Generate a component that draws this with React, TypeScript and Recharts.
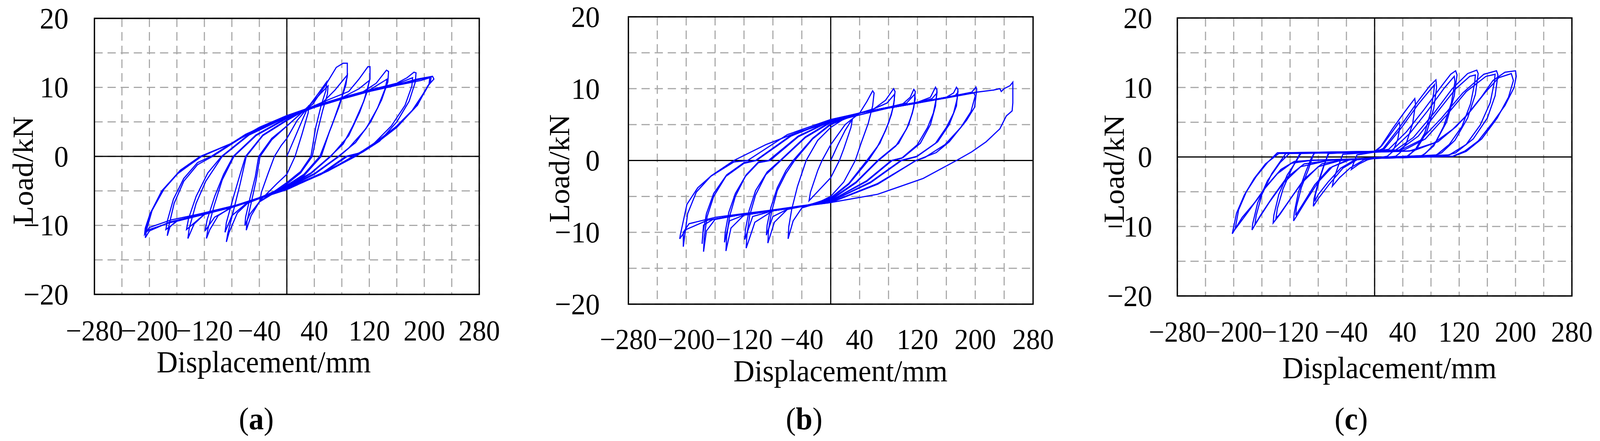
import {
  CartesianGrid,
  Line,
  LineChart,
  ReferenceArea,
  XAxis,
  YAxis,
} from "recharts";

// axes
const X_GRID = [-280, -240, -200, -160, -120, -80, -40, 0, 40, 80, 120, 160, 200, 240, 280];
const X_LABELS = [-280, -200, -120, -40, 40, 120, 200, 280];
const Y_GRID = [-20, -15, -10, -5, 0, 5, 10, 15, 20];
const Y_LABELS = [-20, -10, 0, 10, 20];

// the two zero axes drawn beneath the loops
const ZERO_X = [[0, -20], [0, 20]];
const ZERO_Y = [[-280, 0], [280, 0]];

// specimen (a): one array per loading cycle, [displacement mm, load kN]
const a1 = [[0,0],[12,2.8],[24,5.6],[32,7.4],[31,6.3],[22,3.2],[12,0],[0,-2.6],[-14,-3.9],[-28,-5.3],[-39,-6.4],[-37,-5.2],[-27,-2.4],[-18,0],[-8,1.6],[0,2.6]];
const a2 = [[0,2.6],[15,5.2],[30,7.0],[45,9.0],[58,10.8],[57,9.6],[50,7.4],[42,4.2],[35,0],[20,-2.2],[0,-3.8],[-20,-5.2],[-40,-6.6],[-52,-8.6],[-59,-10.7],[-58,-9.4],[-52,-6.8],[-45,-3.6],[-39,0],[-22,2.4],[0,4.4]];
const a2b = [[0,4.4],[18,6.0],[35,7.6],[50,9.2],[60,10.2],[59,9.0],[52,6.6],[44,3.4],[37,0],[20,-2.4],[0,-4.0],[-20,-5.4],[-40,-6.6],[-54,-8.4],[-61,-10.0],[-60,-8.8],[-54,-6.2],[-46,-3.0],[-41,0],[-22,2.6],[0,4.4]];
const a3 = [[0,4.4],[20,6.2],[38,7.6],[58,10.6],[72,12.9],[82,13.5],[88,13.5],[88,11.6],[80,8.6],[66,4.6],[48,0],[25,-2.6],[0,-4.2],[-30,-5.6],[-55,-6.6],[-72,-8.2],[-84,-11.0],[-88,-12.4],[-86,-11.2],[-78,-8.0],[-68,-4.0],[-59,0],[-35,3.0],[0,5.2]];
const a3b = [[0,5.2],[25,6.6],[50,7.6],[70,9.6],[88,11.8],[86,10.4],[76,7.2],[62,3.6],[50,0],[25,-2.8],[0,-4.3],[-30,-5.7],[-60,-6.9],[-80,-8.6],[-90,-11.0],[-88,-9.6],[-78,-6.0],[-68,-2.6],[-60,0],[-35,3.1],[0,5.3]];
const a4 = [[0,5.3],[30,6.9],[60,8.2],[90,9.4],[105,11.2],[118,13.0],[121,13.0],[121,11.2],[112,8.0],[96,4.4],[82,1.8],[63,0],[35,-2.4],[0,-4.4],[-40,-6.0],[-80,-7.3],[-100,-8.6],[-112,-10.6],[-117,-11.9],[-115,-10.6],[-106,-7.2],[-94,-3.4],[-77,0],[-45,3.0],[0,5.5]];
const a4b = [[0,5.5],[40,7.1],[80,8.5],[105,9.8],[120,11.0],[117,9.4],[106,6.4],[90,3.0],[64,0],[35,-2.5],[0,-4.5],[-40,-6.1],[-80,-7.4],[-105,-8.8],[-119,-10.8],[-116,-9.2],[-105,-5.8],[-92,-2.6],[-78,0],[-45,3.1],[0,5.6]];
const a5 = [[0,5.6],[40,7.2],[80,8.4],[110,9.3],[130,10.6],[145,12.5],[148,12.3],[147,10.8],[138,8.2],[122,5.0],[100,2.0],[75,0],[40,-2.5],[0,-4.5],[-40,-6.0],[-80,-7.3],[-120,-8.4],[-135,-9.8],[-144,-11.9],[-142,-10.4],[-132,-6.8],[-118,-3.6],[-94,0],[-55,3.1],[0,5.7]];
const a5b = [[0,5.7],[40,7.2],[80,8.5],[120,9.6],[146,11.2],[143,9.8],[132,7.0],[115,4.0],[90,1.2],[76,0],[40,-2.6],[0,-4.6],[-40,-6.0],[-80,-7.3],[-120,-8.4],[-146,-10.6],[-143,-9.0],[-132,-5.8],[-115,-2.4],[-95,0],[-55,3.2],[0,5.8]];
const a6 = [[0,5.8],[40,7.3],[80,8.5],[120,9.6],[160,10.6],[175,11.4],[185,12.2],[188,12.1],[187,10.8],[178,8.0],[160,5.0],[135,2.2],[110,0.6],[86,0],[50,-2.5],[0,-4.6],[-40,-6.0],[-80,-7.3],[-120,-8.3],[-160,-9.3],[-170,-10.2],[-174,-11.5],[-172,-10.2],[-164,-6.8],[-150,-3.6],[-130,-1.2],[-108,0],[-60,3.1],[0,5.9]];
const a6b = [[0,5.9],[40,7.3],[80,8.5],[120,9.6],[160,10.5],[183,11.4],[182,10.2],[172,7.4],[152,4.4],[126,1.8],[104,0.3],[88,0],[50,-2.6],[0,-4.7],[-40,-6.1],[-80,-7.3],[-120,-8.4],[-160,-9.4],[-176,-10.6],[-174,-9.4],[-165,-6.2],[-150,-3.2],[-130,-0.9],[-110,0],[-60,3.2],[0,5.9]];
const a7 = [[0,5.9],[40,7.2],[80,8.4],[120,9.5],[160,10.4],[190,11.2],[212,11.6],[214,11.2],[205,10.2],[190,7.4],[160,4.4],[130,2.1],[98,0],[60,-2.0],[0,-4.7],[-40,-6.0],[-75,-7.1],[-125,-8.3],[-168,-9.2],[-200,-10.3],[-207,-11.3],[-206,-10.4],[-199,-8.3],[-182,-5.0],[-160,-2.6],[-125,0],[-82,1.8],[-40,4.2],[0,5.9]];
const a7b = [[0,5.9],[40,7.1],[80,8.3],[120,9.4],[160,10.3],[195,11.0],[208,11.4],[207,10.5],[198,9.0],[182,6.6],[155,3.9],[125,1.6],[96,0],[60,-2.1],[0,-4.8],[-40,-6.1],[-80,-7.3],[-125,-8.4],[-170,-9.5],[-200,-10.8],[-206,-11.8],[-204,-10.6],[-196,-7.8],[-178,-4.6],[-155,-2.0],[-126,0],[-82,1.8],[-40,4.1],[0,5.8]];
const a7c = [[0,5.9],[40,7.2],[80,8.4],[120,9.5],[160,10.4],[195,11.2],[210,11.5],[209,10.8],[201,9.4],[186,7.0],[160,4.2],[130,1.9],[100,0],[60,-2.1],[0,-4.8],[-40,-6.1],[-80,-7.4],[-125,-8.5],[-170,-9.6],[-200,-10.6],[-206,-11.1],[-204,-10.0],[-197,-8.0],[-181,-5.0],[-158,-2.4],[-124,0],[-80,1.9],[-40,4.2],[0,5.9]];

// specimen (b)
const b1 = [[0,0],[10,2.2],[20,4.2],[30,5.8],[28,4.6],[18,1.6],[12,0],[0,-2.4],[-15,-4.0],[-30,-5.6],[-28,-4.4],[-18,-1.4],[-12,0],[0,2.2]];
const b2 = [[0,2.2],[20,5.0],[40,6.6],[50,8.2],[58,9.7],[60,9.4],[58,7.6],[52,5.2],[42,2.4],[34,0],[18,-3.0],[0,-5.0],[-20,-6.0],[-40,-6.6],[-52,-8.4],[-59,-10.9],[-58,-9.2],[-54,-6.8],[-46,-3.6],[-34,0],[-18,2.8],[0,4.6]];
const b3 = [[0,4.6],[20,5.9],[40,6.6],[60,7.2],[76,8.4],[87,10.0],[89,9.6],[87,7.6],[80,5.2],[68,2.4],[50,0],[25,-3.2],[0,-5.2],[-30,-6.2],[-60,-6.8],[-78,-8.6],[-87,-11.5],[-86,-9.6],[-82,-7.2],[-74,-4.2],[-62,-1.8],[-50,0],[-25,3.0],[0,5.0]];
const b3b = [[0,5.0],[20,6.0],[40,6.6],[60,7.2],[78,8.0],[88,9.2],[88,8.4],[84,6.4],[76,4.2],[64,1.8],[52,0],[25,-3.3],[0,-5.3],[-30,-6.2],[-60,-6.8],[-80,-7.8],[-89,-10.4],[-88,-9.0],[-83,-6.6],[-74,-3.8],[-62,-1.4],[-52,0],[-25,3.1],[0,5.1]];
const b4 = [[0,5.0],[40,6.6],[80,7.4],[100,7.9],[110,8.8],[115,9.9],[117,9.6],[115,7.4],[108,5.0],[94,2.4],[65,0],[35,-3.0],[0,-5.4],[-40,-6.4],[-80,-7.0],[-105,-8.6],[-117,-12.2],[-116,-10.4],[-112,-7.6],[-104,-4.8],[-90,-2.0],[-69,0],[-35,3.2],[0,5.3]];
const b4b = [[0,5.1],[40,6.6],[80,7.4],[105,8.0],[116,9.2],[117,8.6],[113,6.6],[105,4.4],[90,2.0],[66,0],[35,-3.1],[0,-5.5],[-40,-6.4],[-80,-7.0],[-108,-7.8],[-119,-11.0],[-118,-9.6],[-113,-7.0],[-104,-4.2],[-88,-1.6],[-70,0],[-35,3.3],[0,5.4]];
const b5 = [[0,5.3],[40,6.6],[80,7.4],[120,8.1],[138,8.8],[145,10.2],[147,9.8],[145,7.6],[138,5.0],[124,2.4],[100,0.4],[84,0],[50,-2.8],[0,-5.6],[-40,-6.4],[-80,-7.0],[-120,-7.6],[-138,-9.4],[-145,-12.6],[-144,-10.6],[-140,-7.8],[-132,-5.0],[-118,-2.2],[-100,-0.3],[-84,0],[-45,3.3],[0,5.5]];
const b5b = [[0,5.4],[40,6.6],[80,7.4],[120,8.1],[140,8.6],[147,9.4],[146,8.6],[142,6.6],[134,4.6],[120,2.2],[98,0.3],[85,0],[50,-2.9],[0,-5.6],[-40,-6.4],[-80,-7.0],[-120,-7.6],[-140,-8.4],[-147,-11.4],[-146,-10.0],[-141,-7.2],[-132,-4.6],[-117,-2.0],[-100,-0.2],[-86,0],[-45,3.4],[0,5.5]];
const b6 = [[0,5.5],[40,6.6],[80,7.4],[120,8.1],[160,8.8],[170,9.4],[174,10.2],[176,9.9],[174,7.6],[164,5.0],[148,2.6],[120,0.6],[97,0],[55,-3.0],[0,-5.7],[-40,-6.4],[-80,-7.0],[-128,-7.6],[-160,-8.2],[-172,-9.8],[-176,-12.7],[-175,-10.6],[-171,-7.8],[-162,-5.0],[-145,-2.2],[-120,-0.4],[-103,0],[-55,3.4],[0,5.6]];
const b6b = [[0,5.6],[40,6.6],[80,7.4],[120,8.1],[160,8.7],[172,9.0],[176,9.5],[175,8.6],[170,6.6],[160,4.6],[145,2.4],[118,0.5],[98,0],[55,-3.1],[0,-5.7],[-40,-6.4],[-80,-7.0],[-128,-7.6],[-163,-8.2],[-176,-9.0],[-178,-11.6],[-177,-10.2],[-172,-7.4],[-162,-4.6],[-144,-2.0],[-120,-0.3],[-104,0],[-55,3.5],[0,5.6]];
const b7 = [[0,5.6],[40,6.6],[80,7.3],[120,8.0],[160,8.8],[195,9.5],[201,10.2],[202,9.8],[199,7.4],[188,5.6],[164,2.6],[146,1.1],[118,0],[65,-3.2],[0,-5.8],[-40,-6.3],[-81,-6.9],[-128,-7.5],[-159,-7.9],[-196,-8.8],[-204,-10.0],[-204,-12.0],[-202,-10.4],[-198,-7.4],[-186,-4.4],[-166,-2.2],[-134,-0.2],[-115,0],[-60,3.6],[0,5.7]];
const b7b = [[0,5.7],[40,6.6],[80,7.3],[120,8.0],[160,8.7],[198,9.4],[200,9.0],[194,6.8],[180,4.6],[158,2.2],[130,0.4],[118,0],[65,-3.3],[0,-5.85],[-40,-6.4],[-80,-7.0],[-128,-7.6],[-170,-8.3],[-200,-9.6],[-209,-10.9],[-208,-10.3],[-199,-6.1],[-184,-3.8],[-165,-2.1],[-134,0],[-90,2.2],[-44,4.0],[0,5.3],[34,6.2]];
const b8 = [[34,6.2],[80,7.3],[120,8.0],[160,8.8],[201,9.5],[225,9.8],[234,10.0],[236,9.6],[240,10.0],[248,10.4],[252,10.9],[252,8.0],[251,6.9],[243,6.2],[234,4.4],[215,2.6],[195,1.2],[174,0],[128,-2.5],[65,-4.7],[0,-5.85],[-20,-6.1]];

// specimen (c), pinched loops
const c1 = [[0,0.8],[10,1.6],[22,3.2],[35,5.0],[36,4.4],[33,2.6],[26,0.8],[18,0.1],[0,-0.2],[-10,-0.4],[-22,-1.0],[-33,-1.8],[-31,-1.2],[-25,0.3],[0,0.7]];
const c2 = [[0,0.7],[8,1.4],[25,4.0],[42,6.4],[57,8.4],[58,7.6],[54,4.8],[45,2.0],[36,0.6],[30,0.1],[0,-0.2],[-15,-0.4],[-35,-1.6],[-50,-3.0],[-60,-4.2],[-58,-3.2],[-52,-1.4],[-45,0.4],[0,0.7]];
const c3 = [[0,0.7],[12,1.2],[35,4.2],[60,7.8],[78,10.2],[87,11.1],[88,10.0],[84,7.0],[74,3.6],[60,1.2],[46,0.1],[0,-0.2],[-25,-0.4],[-45,-1.6],[-65,-4.0],[-80,-6.0],[-87,-7.1],[-86,-6.0],[-80,-3.6],[-72,-1.2],[-65,0.5],[0,0.8]];
const c3b = [[0,0.8],[14,1.2],[38,4.2],[62,7.6],[80,9.8],[85,10.4],[84,9.4],[80,6.6],[71,3.4],[58,1.1],[47,0.1],[0,-0.2],[-28,-0.4],[-48,-1.6],[-66,-3.6],[-80,-5.4],[-85,-6.4],[-84,-5.4],[-78,-3.2],[-71,-1.0],[-66,0.5],[0,0.8]];
const c4 = [[0,0.8],[20,1.1],[45,3.6],[70,6.8],[95,10.2],[108,11.9],[115,12.4],[117,11.8],[113,8.8],[102,5.0],[86,2.0],[72,0.5],[65,0.1],[0,-0.2],[-35,-0.4],[-60,-1.4],[-80,-3.6],[-98,-6.4],[-110,-8.4],[-115,-9.2],[-114,-8.0],[-108,-5.0],[-98,-2.2],[-90,-0.2],[-85,0.6],[0,0.8]];
const c4b = [[0,0.8],[25,1.0],[50,3.4],[75,6.6],[98,9.8],[113,11.6],[114,10.8],[109,7.8],[98,4.4],[84,1.6],[68,0.2],[0,-0.1],[-38,-0.4],[-64,-1.6],[-85,-4.0],[-102,-6.8],[-112,-8.4],[-111,-7.2],[-104,-4.4],[-94,-1.8],[-86,0.6],[0,0.7]];
const c5 = [[0,0.7],[30,1.0],[55,2.8],[85,6.4],[110,9.8],[132,12.0],[145,12.5],[147,12.0],[143,9.0],[132,5.6],[114,2.4],[95,0.6],[82,0.1],[0,-0.2],[-45,-0.4],[-75,-1.0],[-100,-3.2],[-118,-5.8],[-134,-8.2],[-144,-9.5],[-143,-8.4],[-136,-5.4],[-124,-2.6],[-110,-0.4],[-104,0.6],[0,0.8]];
const c5b = [[0,0.8],[35,1.0],[62,3.0],[90,6.6],[115,9.8],[135,11.6],[143,11.8],[142,10.6],[136,7.6],[124,4.4],[106,1.8],[88,0.3],[0,-0.2],[-48,-0.5],[-80,-1.4],[-104,-3.8],[-122,-6.4],[-136,-8.4],[-140,-8.8],[-138,-7.4],[-130,-4.6],[-118,-1.8],[-106,0.5],[0,0.7]];
const c6 = [[0,0.7],[35,0.9],[65,2.4],[95,5.6],[125,9.2],[155,11.9],[173,12.4],[175,11.8],[171,8.8],[160,5.6],[140,2.6],[115,0.6],[98,0.1],[0,-0.2],[-60,-0.45],[-100,-1.0],[-125,-3.0],[-145,-5.8],[-162,-8.4],[-174,-10.5],[-173,-9.6],[-166,-6.6],[-152,-3.4],[-134,-0.8],[-120,0.6],[0,0.8]];
const c6b = [[0,0.8],[40,0.9],[72,2.6],[102,6.0],[130,9.4],[158,11.6],[171,11.9],[170,10.8],[164,7.8],[150,4.6],[130,1.8],[106,0.3],[0,-0.1],[-65,-0.5],[-105,-1.4],[-130,-3.8],[-150,-6.6],[-164,-8.8],[-170,-9.8],[-168,-8.4],[-160,-5.4],[-146,-2.4],[-126,0.5],[0,0.7]];
const c7 = [[0,0.7],[49,0.85],[84,2.0],[111,4.0],[130,5.9],[152,8.7],[168,11.0],[185,12.2],[200,12.4],[201,11.6],[198,10.0],[185,7.4],[168,5.0],[147,2.3],[128,0.85],[111,0.1],[0,-0.2],[-87,-0.47],[-114,-0.65],[-133,-1.8],[-152,-4.0],[-168,-6.3],[-188,-8.7],[-202,-11.05],[-196,-8.1],[-185,-5.5],[-171,-3.1],[-155,-1.0],[-136,0.5],[0,0.7]];
const c7b = [[0,0.7],[55,0.9],[90,2.2],[116,4.4],[136,6.6],[158,9.4],[176,11.4],[194,12.0],[197,11.0],[190,8.6],[174,5.6],[152,2.6],[130,0.8],[112,0.1],[0,-0.2],[-90,-0.5],[-118,-0.9],[-138,-2.4],[-158,-4.8],[-176,-7.4],[-192,-9.6],[-198,-10.4],[-193,-7.6],[-182,-5.0],[-168,-2.8],[-152,-0.8],[-138,0.6],[0,0.8]];

const PAGE_W = 4270;
const PAGE_H = 1128;
const FONT = '"Liberation Serif", "Times New Roman", serif';
const BLUE = "#0000ff";
const Y_AXIS_W = 160;
const X_AXIS_H = 160;
const X_TICK_SIZE = 74;

type Box = { left: number; right: number; top: number; bottom: number };

const toPts = (cycle: number[][]) => cycle.map(([x, y]) => ({ x, y }));

function fmt(v: number): string {
  return v < 0 ? `\u2212${-v}` : String(v);
}

type PanelProps = {
  x0: number;
  width: number;
  box: Box;
  yGap: number;
  xTickDy: number;
  cycles: number[][][];
};

function HysteresisPanel({ x0, width, box, yGap, xTickDy, cycles }: PanelProps) {
  const plotLeft = box.left - x0;
  const margin = {
    top: box.top,
    bottom: PAGE_H - box.bottom - X_AXIS_H,
    left: plotLeft - Y_AXIS_W,
    right: x0 + width - box.right,
  };

  const XTick = (props: any) => {
    const { x, payload } = props;
    if (!X_LABELS.includes(payload.value)) return <g />;
    return (
      <text x={x} y={box.bottom + xTickDy} textAnchor="middle" fontSize={X_TICK_SIZE} fontFamily={FONT} fill="#000">
        {fmt(payload.value)}
      </text>
    );
  };

  const YTick = (props: any) => {
    const { y, payload } = props;
    if (!Y_LABELS.includes(payload.value)) return <g />;
    return (
      <text x={plotLeft - yGap} y={y + 26} textAnchor="end" fontSize={77} fontFamily={FONT} fill="#000">
        {fmt(payload.value)}
      </text>
    );
  };

  return (
    <div style={{ position: "absolute", left: x0, top: 0 }}>
      <LineChart width={width} height={PAGE_H} margin={margin}>
        <CartesianGrid stroke="#a8a8a8" strokeWidth={3} strokeDasharray="22 13" />
        <XAxis
          type="number"
          dataKey="x"
          domain={[-280, 280]}
          ticks={X_GRID}
          interval={0}
          allowDataOverflow
          height={X_AXIS_H}
          axisLine={false}
          tickLine={false}
          tickSize={0}
          tickMargin={0}
          tick={XTick}
        />
        <YAxis
          type="number"
          domain={[-20, 20]}
          ticks={Y_GRID}
          interval={0}
          allowDataOverflow
          width={Y_AXIS_W}
          axisLine={false}
          tickLine={false}
          tickSize={0}
          tickMargin={0}
          tick={YTick}
        />
        {[ZERO_X, ZERO_Y].map((axis, i) => (
          <Line
            key={`zero-${i}`}
            data={toPts(axis)}
            dataKey="y"
            type="linear"
            stroke="#000"
            strokeWidth={3}
            dot={false}
            activeDot={false}
            isAnimationActive={false}
          />
        ))}
        {cycles.map((c, i) => (
          <Line
            key={i}
            data={toPts(c)}
            dataKey="y"
            type="linear"
            stroke={BLUE}
            strokeWidth={3}
            dot={false}
            activeDot={false}
            isAnimationActive={false}
          />
        ))}
        <ReferenceArea x1={-280} x2={280} y1={-20} y2={20} fill="none" fillOpacity={0} stroke="#000" strokeWidth={3.5} />
      </LineChart>
    </div>
  );
}

function Titles() {
  const txt = { fontFamily: FONT, fill: "#000" };
  return (
    <svg width={PAGE_W} height={PAGE_H} style={{ position: "absolute", left: 0, top: 0, pointerEvents: "none" }}>
      <text x={704} y={952} textAnchor="middle" fontSize={78} {...txt}>Displacement/mm</text>
      <text x={2243} y={975} textAnchor="middle" fontSize={78} {...txt}>Displacement/mm</text>
      <text x={3708} y={967} textAnchor="middle" fontSize={78} {...txt}>Displacement/mm</text>

      <text transform="translate(88,436) rotate(-90)" textAnchor="middle" fontSize={78} {...txt}>Load/kN</text>
      <text transform="translate(1519,431) rotate(-90)" textAnchor="middle" fontSize={78} {...txt}>Load/kN</text>
      <text transform="translate(2999,432) rotate(-90)" textAnchor="middle" fontSize={78} {...txt}>Load/kN</text>

      <text x={684} y={1098} textAnchor="middle" fontSize={80} {...txt}>(<tspan fontWeight="bold">a</tspan>)</text>
      <text x={2146} y={1098} textAnchor="middle" fontSize={80} {...txt}>(<tspan fontWeight="bold">b</tspan>)</text>
      <text x={3606} y={1098} textAnchor="middle" fontSize={80} {...txt}>(<tspan fontWeight="bold">c</tspan>)</text>
    </svg>
  );
}

export default function App() {
  // fit the 4270 x 1128 figure into whatever viewport the page really gets
  const vw = typeof window !== "undefined" ? document.documentElement.clientWidth || window.innerWidth : PAGE_W;
  const vh = typeof window !== "undefined" ? document.documentElement.clientHeight || window.innerHeight : PAGE_H;
  const sx = Math.min(1, vw / PAGE_W);
  const sy = Math.min(1, vh / PAGE_H);

  return (
    <div style={{ position: "absolute", left: 0, top: 0, width: PAGE_W * sx, height: PAGE_H * sy, overflow: "hidden", background: "#fff" }}>
      <div
        style={{
          position: "absolute",
          left: 0,
          top: 0,
          width: PAGE_W,
          height: PAGE_H,
          transform: `scale(${sx}, ${sy})`,
          transformOrigin: "0 0",
        }}
      >
        <HysteresisPanel
          x0={0}
          width={1430}
          box={{ left: 252, right: 1279, top: 47, bottom: 753 }}
          yGap={69}
          xTickDy={118}
          cycles={[a1, a2, a2b, a3, a3b, a4, a4b, a5, a5b, a6, a6b, a7, a7b, a7c]}
        />
        <HysteresisPanel
          x0={1430}
          width={1420}
          box={{ left: 1677, right: 2757, top: 43, bottom: 778 }}
          yGap={76}
          xTickDy={115}
          cycles={[b1, b2, b3, b3b, b4, b4b, b5, b5b, b6, b6b, b7, b7b, b8]}
        />
        <HysteresisPanel
          x0={2850}
          width={1420}
          box={{ left: 3142, right: 4195, top: 46, bottom: 757 }}
          yGap={67}
          xTickDy={117}
          cycles={[c1, c2, c3, c3b, c4, c4b, c5, c5b, c6, c6b, c7, c7b]}
        />
        <Titles />
      </div>
    </div>
  );
}
